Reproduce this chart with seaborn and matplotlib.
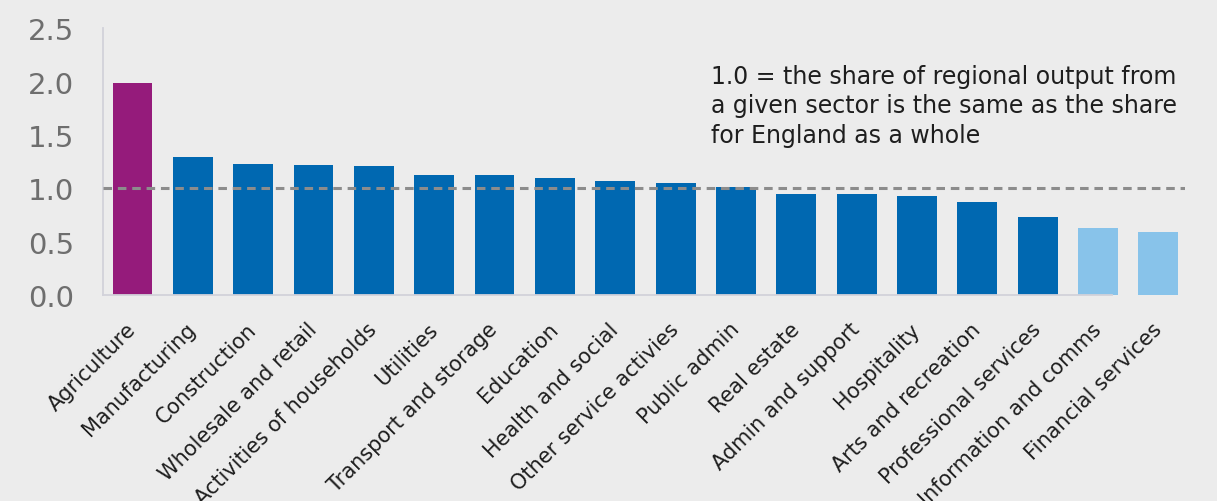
import matplotlib
matplotlib.use("Agg")
import matplotlib.pyplot as plt
import seaborn as sns
import pandas as pd

sectors = [
    "Agriculture", "Manufacturing", "Construction", "Wholesale and retail",
    "Activities of households", "Utilities", "Transport and storage",
    "Education", "Health and social", "Other service activies", "Public admin",
    "Real estate", "Admin and support", "Hospitality", "Arts and recreation",
    "Professional services", "Information and comms", "Financial services",
]
location_quotient = [
    1.99, 1.29, 1.23, 1.22, 1.21, 1.13, 1.13, 1.10, 1.07, 1.05, 1.01,
    0.95, 0.945, 0.925, 0.87, 0.73, 0.63, 0.59,
]
groups = ["primary"] + ["core"] * 15 + ["light"] * 2

palette = {"primary": "#951b7b", "core": "#0068b1", "light": "#88c3ea"}
bg = "#ececec"

df = pd.DataFrame({"sector": sectors, "lq": location_quotient, "group": groups})

sns.set_theme(style="white")
plt.rcParams["font.family"] = ["DejaVu Sans"]

fig = plt.figure(figsize=(12.17, 5.02), dpi=100, facecolor=bg)
ax = fig.add_axes([0.0846, 0.410, 0.8895, 0.5316])
ax.set_facecolor(bg)

sns.barplot(data=df, x="sector", y="lq", hue="group", palette=palette,
            dodge=False, width=0.66, legend=False, ax=ax, saturation=1,
            linewidth=0)

ax.axhline(1.0, color="#8c8c8c", linestyle=(0, (2.8, 1.9)), linewidth=2.2, zorder=3)

ax.set_xlim(-0.49, 17.45)
ax.set_ylim(0, 2.5)
ax.set_yticks([0.0, 0.5, 1.0, 1.5, 2.0, 2.5])
ax.set_yticklabels([f"{v:.1f}" for v in [0.0, 0.5, 1.0, 1.5, 2.0, 2.5]],
                   fontsize=21, color="#6e6e6e")
ax.set_xlabel("")
ax.set_ylabel("")

for side in ["top", "right"]:
    ax.spines[side].set_visible(False)
for side in ["left", "bottom"]:
    ax.spines[side].set_color("#d2d2da")
    ax.spines[side].set_linewidth(1.3)
ax.spines["bottom"].set_bounds(-0.49, 16.23)

ax.tick_params(axis="y", length=8.6, width=1.3, color="#d2d2da", pad=12)
ax.tick_params(axis="x", length=0, pad=22)
plt.setp(ax.get_xticklabels(), rotation=45, ha="right", va="center",
         rotation_mode="anchor", fontsize=15, color="#1e1e1e")

ax.text(9.59, 2.17,
        "1.0 = the share of regional output from\n"
        "a given sector is the same as the share\n"
        "for England as a whole",
        fontsize=17, color="#1e1e1e", va="top", ha="left", linespacing=1.3)

fig.savefig("out.png", dpi=100, facecolor=bg)
